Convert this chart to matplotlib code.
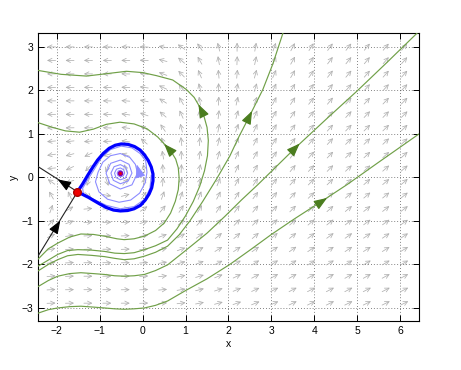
import numpy as np
import matplotlib
matplotlib.use("Agg")
import matplotlib.pyplot as plt

plt.rcParams["font.family"] = ["Liberation Sans", "DejaVu Sans"]

# direction field: arrow centres and angles (degrees)
field_x = [-2.13, -1.70, -1.27, -0.83, -0.40, 0.03, 0.47, 0.90, 1.33, 1.77,
           2.20, 2.63, 3.07, 3.50, 3.93, 4.37, 4.80, 5.23, 5.67, 6.10]
field_y = [3.00, 2.69, 2.38, 2.07, 1.76, 1.45, 1.14, 0.83, 0.52, 0.21,
           -0.10, -0.41, -0.72, -1.03, -1.34, -1.65, -1.96, -2.27, -2.58, -2.89]
field_angle = [
    [180, 180, 180, 180, 180, 178, 170, 145, 125, 105, 90, 80, 70, 62, 57, 54, 52, 50, 50, 50],
    [180, 180, 180, 180, 180, 177, 165, 140, 120, 100, 88, 78, 68, 60, 56, 53, 51, 50, 49, 49],
    [180, 180, 180, 180, 179, 175, 160, 135, 113, 95, 85, 75, 66, 59, 55, 52, 50, 49, 48, 48],
    [180, 180, 180, 180, 178, 172, 155, 128, 105, 90, 80, 72, 64, 57, 53, 51, 49, 48, 47, 47],
    [180, 180, 180, 179, 176, 168, 148, 120, 100, 87, 77, 69, 62, 56, 52, 50, 48, 47, 46, 46],
    [180, 180, 180, 177, 172, 160, 140, 115, 95, 83, 74, 66, 60, 55, 51, 49, 47, 46, 45, 45],
    [182, 181, 180, 178, 172, 150, 125, 105, 90, 80, 71, 64, 58, 53, 50, 48, 46, 45, 44, 44],
    [185, 186, 185, 182, 172, 140, 112, 97, 86, 77, 68, 62, 56, 52, 49, 47, 45, 44, 43, 43],
    [188, 195, 205, 195, 160, 115, 100, 91, 82, 74, 66, 60, 55, 51, 48, 46, 44, 43, 42, 42],
    [185, 205, 225, 250, 110, 100, 93, 87, 79, 71, 64, 58, 53, 50, 47, 45, 43, 42, 41, 41],
    [145, 200, 250, 290, 50, 80, 86, 82, 75, 68, 61, 56, 52, 48, 46, 44, 42, 41, 40, 40],
    [120, 115, 320, 350, 15, 55, 70, 71, 68, 63, 58, 53, 50, 47, 44, 42, 41, 40, 39, 39],
    [70, 30, 5, 3, 10, 35, 50, 57, 58, 56, 53, 50, 47, 45, 42, 41, 39, 38, 38, 37],
    [45, 20, 5, 2, 5, 18, 32, 42, 46, 47, 46, 45, 43, 41, 40, 38, 37, 36, 36, 35],
    [25, 10, 3, 0, 3, 10, 20, 30, 36, 39, 40, 40, 39, 38, 37, 36, 35, 34, 34, 33],
    [12, 5, 2, 0, 2, 6, 13, 20, 27, 31, 34, 35, 35, 35, 34, 33, 33, 32, 32, 31],
    [8, 3, 1, 0, 1, 4, 9, 15, 21, 26, 29, 31, 32, 32, 32, 31, 31, 30, 30, 30],
    [5, 2, 0, 0, 1, 3, 7, 12, 17, 22, 25, 27, 29, 29, 29, 29, 29, 29, 28, 28],
    [3, 1, 0, 0, 1, 2, 5, 9, 14, 18, 22, 24, 26, 27, 27, 27, 27, 27, 27, 27],
    [2, 1, 0, 0, 0, 2, 4, 7, 11, 15, 19, 22, 24, 25, 26, 26, 26, 26, 26, 26],
]

# green trajectories
traj_a_x = [-2.44, -2.2, -1.98, -1.7, -1.44, -1.15, -0.89, -0.6, -0.43, -0.2, 0.04, 0.3, 0.5,
            0.65, 0.76, 0.83, 0.85, 0.83, 0.77, 0.66, 0.55, 0.35, 0.1, -0.2, -0.53, -0.85,
            -1.15, -1.47, -1.8, -2.1, -2.44]
traj_a_y = [-1.88, -1.64, -1.51, -1.37, -1.30, -1.31, -1.35, -1.41, -1.43, -1.41, -1.35, -1.22,
            -1.05, -0.82, -0.55, -0.28, -0.02, 0.22, 0.42, 0.60, 0.72, 0.93, 1.12, 1.23, 1.27,
            1.22, 1.11, 1.04, 1.07, 1.15, 1.26]
traj_b_x = [-2.44, -2.2, -1.98, -1.75, -1.51, -1.2, -0.89, -0.65, -0.43, -0.2, 0.04, 0.3, 0.58,
            0.8, 1.0, 1.18, 1.33, 1.44, 1.51, 1.53, 1.5, 1.43, 1.33, 1.2, 1.02, 0.7, 0.32, 0.0,
            -0.38, -0.8, -1.31, -1.9, -2.44]
traj_b_y = [-2.04, -1.9, -1.77, -1.68, -1.66, -1.67, -1.70, -1.74, -1.75, -1.73, -1.66, -1.57,
            -1.44, -1.18, -0.88, -0.55, -0.2, 0.15, 0.5, 0.85, 1.15, 1.40, 1.62, 1.84, 2.02,
            2.24, 2.34, 2.41, 2.44, 2.39, 2.33, 2.37, 2.46]
traj_c_x = [-2.44, -2.2, -1.98, -1.75, -1.51, -1.2, -0.89, -0.65, -0.43, -0.2, 0.04, 0.3, 0.58,
            0.85, 1.1, 1.4, 1.72, 2.03, 2.25, 2.49, 2.8, 3.03, 3.27]
traj_c_y = [-2.15, -2.0, -1.89, -1.80, -1.77, -1.79, -1.82, -1.86, -1.89, -1.87, -1.81, -1.72,
            -1.58, -1.32, -1.0, -0.55, -0.04, 0.49, 0.95, 1.41, 2.02, 2.6, 3.32]
traj_d_x = [-2.44, -2.2, -1.98, -1.7, -1.44, -1.15, -0.89, -0.65, -0.43, -0.2, 0.04, 0.3, 0.58,
            1.0, 1.5, 1.91, 2.3, 2.69, 3.0, 3.58, 4.3, 5.0, 5.7, 6.44]
traj_d_y = [-2.51, -2.37, -2.27, -2.21, -2.19, -2.21, -2.23, -2.26, -2.27, -2.26, -2.23, -2.14,
            -2.01, -1.68, -1.28, -0.9, -0.52, -0.16, 0.14, 0.70, 1.36, 1.99, 2.65, 3.36]
traj_e_x = [-2.44, -2.2, -1.98, -1.7, -1.44, -1.15, -0.89, -0.65, -0.43, -0.2, 0.04, 0.3, 0.58,
            1.0, 1.5, 2.03, 2.5, 3.0, 3.54, 4.2, 4.77, 5.5, 6.44]
traj_e_y = [-3.12, -3.04, -3.0, -2.97, -2.96, -2.98, -3.0, -3.02, -3.03, -3.02, -3.0, -2.94,
            -2.84, -2.6, -2.33, -2.0, -1.67, -1.31, -0.95, -0.53, -0.16, 0.35, 1.0]

# homoclinic loop through the saddle
loop_x = [-1.52, -1.40, -1.28, -1.16, -1.05, -0.92, -0.78, -0.64, -0.50, -0.34, -0.19, -0.06,
          0.04, 0.13, 0.20, 0.24, 0.24, 0.21, 0.15, 0.06, -0.05, -0.2, -0.35, -0.52, -0.68,
          -0.85, -1.0, -1.14, -1.26, -1.40, -1.52]
loop_y = [-0.33, -0.15, 0.05, 0.24, 0.40, 0.55, 0.67, 0.74, 0.77, 0.76, 0.71, 0.63, 0.52, 0.39,
          0.24, 0.08, -0.08, -0.24, -0.38, -0.52, -0.64, -0.72, -0.76, -0.77, -0.75, -0.69,
          -0.61, -0.53, -0.46, -0.39, -0.33]

# spiral around the focus
spiral_x = [-0.50, -0.503, -0.52, -0.542, -0.555, -0.548, -0.52, -0.487,
            -0.47, -0.48, -0.52, -0.569, -0.595, -0.577, -0.52, -0.454,
            -0.42, -0.443, -0.52, -0.61, -0.656, -0.623, -0.52, -0.405,
            -0.35, -0.391, -0.52, -0.667, -0.74, -0.685, -0.52, -0.338,
            -0.25, -0.318, -0.52, -0.745, -0.854, -0.767, -0.52, -0.25,
            -0.12, -0.17, -0.30, -0.52, -0.75, -0.93, -1.04, -1.10, -1.02, -0.82, -0.55,
            -0.28, -0.07, 0.06, 0.10,
            0.07, -0.06, -0.25, -0.5, -0.75, -0.95, -1.12, -1.28, -1.40, -1.38, -1.15,
            -0.85, -0.52, -0.2, 0.05, 0.17, 0.2]
spiral_y = [0.10, 0.117, 0.128, 0.122, 0.10, 0.072, 0.057, 0.067,
            0.10, 0.14, 0.162, 0.149, 0.10, 0.043, 0.013, 0.034,
            0.10, 0.177, 0.218, 0.19, 0.10, -0.003, -0.054, -0.015,
            0.10, 0.229, 0.295, 0.247, 0.10, -0.065, -0.145, -0.082,
            0.10, 0.302, 0.40, 0.325, 0.10, -0.147, -0.266, -0.17,
            0.10, 0.30, 0.46, 0.55, 0.50, 0.35, 0.12, -0.10, -0.33, -0.50, -0.57,
            -0.52, -0.36, -0.12, 0.12,
            0.38, 0.55, 0.68, 0.72, 0.64, 0.47, 0.2, -0.05, -0.25, -0.38, -0.50,
            -0.64, -0.72, -0.67, -0.5, -0.25, 0.05]

saddle = (-1.52, -0.33)
focus = (-0.52, 0.10)
manifold_up_x = [-1.52, -2.44]
manifold_up_y = [-0.33, 0.25]
manifold_low_x = [-1.52, -2.44]
manifold_low_y = [-0.33, -1.81]

# arrowheads on the curves: (tail x, tail y, tip x, tip y)
green_heads = [(0.62, 0.64, 0.50, 0.77), (1.40, 1.48, 1.30, 1.68), (2.43, 1.29, 2.55, 1.53),
               (3.50, 0.62, 3.66, 0.78), (4.10, -0.60, 4.30, -0.47)]
black_heads = [(-1.80, -0.155, -1.98, -0.045), (-2.05, -1.20, -1.92, -0.99)]
spiral_head = (-0.10, 0.17, -0.14, 0.30)

fig = plt.figure(figsize=(4.61, 3.70), dpi=100)
ax = fig.add_axes([0.0824, 0.1324, 0.8265, 0.7784])

# direction field
half = 0.10
for i, yv in enumerate(field_y):
    for j, xv in enumerate(field_x):
        a = np.radians(field_angle[i][j])
        dx, dy = half * np.cos(a), half * np.sin(a)
        ax.annotate("", xy=(xv + dx, yv + dy), xytext=(xv - dx, yv - dy),
                    arrowprops=dict(arrowstyle="->,head_length=0.3,head_width=0.15",
                                    color="#b0b0b0", lw=0.55, shrinkA=0, shrinkB=0),
                    zorder=1)

green = "#70a048"
for tx, ty in [(traj_a_x, traj_a_y), (traj_b_x, traj_b_y), (traj_c_x, traj_c_y),
               (traj_d_x, traj_d_y), (traj_e_x, traj_e_y)]:
    ax.plot(tx, ty, color=green, lw=0.85, zorder=3)

for x0, y0, x1, y1 in green_heads:
    ax.annotate("", xy=(x1, y1), xytext=(x0, y0),
                arrowprops=dict(arrowstyle="-|>,head_length=0.8,head_width=0.3",
                                color="#4b7d1f", lw=0.85, shrinkA=0, shrinkB=0,
                                mutation_scale=10), zorder=4)

ax.plot(spiral_x, spiral_y, color="#8c8cff", lw=0.8, zorder=4)
x0, y0, x1, y1 = spiral_head
ax.annotate("", xy=(x1, y1), xytext=(x0, y0),
            arrowprops=dict(arrowstyle="-|>,head_length=0.8,head_width=0.3",
                            color="#8c8cff", lw=0.8, shrinkA=0, shrinkB=0,
                            mutation_scale=10), zorder=4)

ax.plot(manifold_up_x, manifold_up_y, color="#222222", lw=0.8, zorder=4)
ax.plot(manifold_low_x, manifold_low_y, color="#222222", lw=0.8, zorder=4)
for x0, y0, x1, y1 in black_heads:
    ax.annotate("", xy=(x1, y1), xytext=(x0, y0),
                arrowprops=dict(arrowstyle="-|>,head_length=0.8,head_width=0.3",
                                color="black", lw=0.8, shrinkA=0, shrinkB=0,
                                mutation_scale=10), zorder=4)

ax.plot(loop_x, loop_y, color="#0000ff", lw=2.3, zorder=5, solid_joinstyle="round")
ax.plot(*saddle, "o", color="#ee0000", markeredgecolor="#aa0000", markersize=5.5, zorder=6)
ax.plot(*focus, "o", color="#ee0000", markeredgecolor="#8800aa", markersize=3, zorder=6)

ax.set_xlim(-2.44, 6.44)
ax.set_ylim(-3.30, 3.32)
ax.set_xticks(range(-2, 7))
ax.set_yticks(range(-3, 4))
ax.grid(True, linestyle=(0, (1, 2.5)), color="0.35", lw=0.6)
ax.set_axisbelow(True)
ax.tick_params(direction="in", top=True, right=True, labelsize=7.5, length=4, width=0.7)
for s in ax.spines.values():
    s.set_linewidth(0.8)
ax.set_xlabel("x", fontsize=7.5, labelpad=2)
ax.set_ylabel("y", fontsize=7.5, labelpad=2)

fig.savefig("out.png", dpi=100)
